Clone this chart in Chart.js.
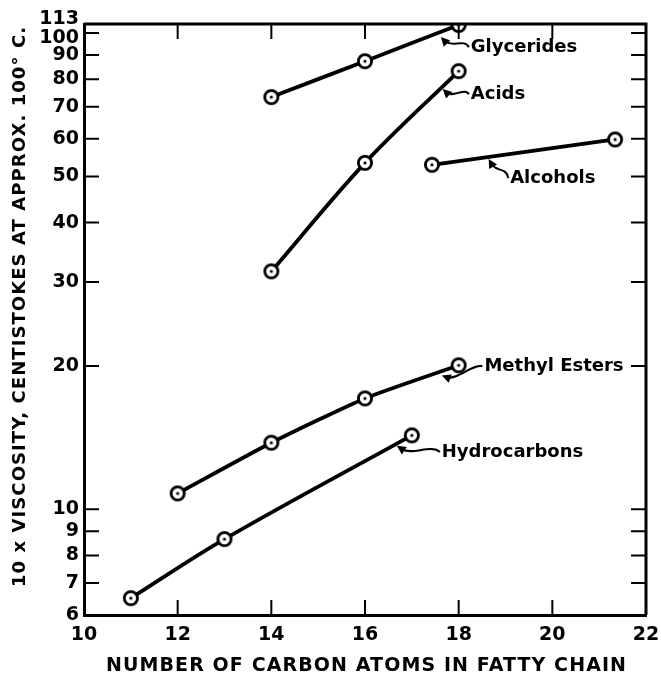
<!DOCTYPE html>
<html><head><meta charset="utf-8">
<script src="https://cdn.jsdelivr.net/npm/chart.js@4/dist/chart.umd.min.js"></script>
<style>html,body{margin:0;padding:0;background:#fff}#wrap{width:661px;height:682px;position:relative}</style>
</head><body><div id="wrap"><canvas id="c"></canvas></div>
<script>
// ---- data ----
const carbonTicks = [10, 12, 14, 16, 18, 20, 22];
const viscTickValues = [6, 7, 8, 9, 10, 20, 30, 40, 50, 60, 70, 80, 90, 100, 104.5];
const viscTickLabels = ['6', '7', '8', '9', '10', '20', '30', '40', '50', '60', '70', '80', '90', '100', '113'];

const glyceridesX = [14, 16, 18];
const glyceridesY = [73.4, 87.3, 104];
const acidsX = [14, 16, 18];
const acidsY = [31.6, 53.4, 83.2];
const alcoholsX = [17.43, 21.34];
const alcoholsY = [52.9, 59.8];
const methylX = [12, 14, 16, 18];
const methylY = [10.8, 13.8, 17.1, 20.07];
const hydroX = [11, 13, 17];
const hydroY = [6.51, 8.66, 14.3];

const seriesNames = ['Glycerides', 'Acids', 'Alcohols', 'Methyl Esters', 'Hydrocarbons'];
const xTitle = 'NUMBER OF CARBON ATOMS IN FATTY CHAIN';
const yTitle = '10 x VISCOSITY, CENTISTOKES AT APPROX. 100° C.';

// label placement (data units)
const labelPos = [
  {x: 18.26, y: 93.4, tipX: 17.62, tipY: 98.1},
  {x: 18.26, y: 74.4, tipX: 17.66, tipY: 76.3},
  {x: 19.1,  y: 49.6, tipX: 18.64, tipY: 54.4},
  {x: 18.55, y: 19.97, tipX: 17.64, tipY: 19.1},
  {x: 17.64, y: 13.2, tipX: 16.68, tipY: 13.6}
];

function pts(xs, ys) { return xs.map((x, i) => ({x: x, y: ys[i]})); }

function makePoint() {
  const c = document.createElement('canvas');
  c.width = 18; c.height = 18;
  const g = c.getContext('2d');
  g.beginPath(); g.arc(9, 9, 6.6, 0, Math.PI * 2);
  g.fillStyle = '#fff'; g.fill();
  g.lineWidth = 2.8; g.strokeStyle = '#000'; g.stroke();
  g.beginPath(); g.arc(9, 9, 1.6, 0, Math.PI * 2);
  g.fillStyle = '#000'; g.fill();
  return c;
}
const pointImg = makePoint();

function ds(name, xs, ys, tension) {
  return {
    label: name, data: pts(xs, ys), borderColor: '#000', borderWidth: 3.8,
    pointStyle: pointImg, pointRadius: 9, tension: tension, fill: false
  };
}

const FONT = "'DejaVu Sans', sans-serif";

function spacedText(ctx, text, cx, cy, target) {
  ctx.letterSpacing = '0px';
  const w = ctx.measureText(text).width;
  const sp = Math.max(0, (target - w) / (text.length - 1));
  ctx.letterSpacing = sp + 'px';
  ctx.textAlign = 'left';
  ctx.fillText(text, cx - target / 2, cy);
  ctx.letterSpacing = '0px';
}

const framePlugin = {
  id: 'frame',
  afterDraw(chart) {
    const {ctx, chartArea: a, scales} = chart;
    const xs = scales.x, ys = scales.y;
    ctx.save();
    ctx.strokeStyle = '#000';
    ctx.lineWidth = 3;
    ctx.beginPath();
    ctx.moveTo(a.left, a.top); ctx.lineTo(a.right, a.top); ctx.lineTo(a.right, a.bottom);
    ctx.stroke();
    ctx.lineWidth = 2;
    const L = 15;
    carbonTicks.slice(1, -1).forEach(v => {
      const p = xs.getPixelForValue(v);
      ctx.beginPath();
      ctx.moveTo(p, a.bottom); ctx.lineTo(p, a.bottom - L);
      ctx.moveTo(p, a.top); ctx.lineTo(p, a.top + L);
      ctx.stroke();
    });
    viscTickValues.slice(1, -1).forEach(v => {
      const p = ys.getPixelForValue(v);
      ctx.beginPath();
      ctx.moveTo(a.left, p); ctx.lineTo(a.left + L, p);
      ctx.moveTo(a.right, p); ctx.lineTo(a.right - L, p);
      ctx.stroke();
    });
    // axis titles
    ctx.fillStyle = '#000';
    ctx.font = 'bold 19px ' + FONT;
    ctx.textBaseline = 'middle';
    spacedText(ctx, xTitle, (a.left + a.right) / 2 + 1, 666, 520);
    ctx.font = 'bold 18px ' + FONT;
    ctx.save();
    ctx.translate(20, 307);
    ctx.rotate(-Math.PI / 2);
    spacedText(ctx, yTitle, 0, 0, 560);
    ctx.restore();
    // annotations
    ctx.font = 'bold 18px ' + FONT;
    ctx.textAlign = 'left';
    ctx.textBaseline = 'middle';
    seriesNames.forEach((name, i) => {
      const lp = labelPos[i];
      const tx = xs.getPixelForValue(lp.x), ty = ys.getPixelForValue(lp.y);
      const px = xs.getPixelForValue(lp.tipX), py = ys.getPixelForValue(lp.tipY);
      ctx.fillText(name, tx, ty);
      const sx = tx - 2, sy = ty;
      const dx = px - sx, dy = py - sy;
      const c1x = sx + dx * 0.3 + 4, c1y = sy + dy * 0.3 - 6;
      const c2x = sx + dx * 0.7 + 2, c2y = sy + dy * 0.7 + 8;
      ctx.lineWidth = 2;
      ctx.beginPath();
      ctx.moveTo(sx, sy);
      ctx.bezierCurveTo(c1x, c1y, c2x, c2y, px + (c2x - px) * 0.35, py + (c2y - py) * 0.35);
      ctx.stroke();
      let ux = px - c2x, uy = py - c2y;
      const len = Math.hypot(ux, uy) || 1; ux /= len; uy /= len;
      const hl = 9, hw = 4.5;
      ctx.beginPath();
      ctx.moveTo(px, py);
      ctx.lineTo(px - ux * hl - uy * hw, py - uy * hl + ux * hw);
      ctx.lineTo(px - ux * hl + uy * hw, py - uy * hl - ux * hw);
      ctx.closePath();
      ctx.fill();
    });
    ctx.restore();
  }
};

const lastIdx = viscTickLabels.length - 1;

new Chart(document.getElementById('c'), {
  type: 'line',
  data: {
    datasets: [
      ds(seriesNames[0], glyceridesX, glyceridesY, 0.15),
      ds(seriesNames[1], acidsX, acidsY, 0.35),
      ds(seriesNames[2], alcoholsX, alcoholsY, 0),
      ds(seriesNames[3], methylX, methylY, 0.2),
      ds(seriesNames[4], hydroX, hydroY, 0.35)
    ]
  },
  options: {
    responsive: true,
    maintainAspectRatio: false,
    animation: false,
    layout: {padding: {left: 0, top: 24, right: 15, bottom: 2}},
    plugins: {legend: {display: false}, tooltip: {enabled: false}},
    scales: {
      x: {
        type: 'linear', min: 10, max: 22,
        afterBuildTicks: s => { s.ticks = carbonTicks.map(v => ({value: v})); },
        afterFit: s => { s.height = 65; s.paddingRight = 0; s.paddingLeft = 0; },
        grid: {display: false, drawTicks: false},
        border: {display: true, color: '#000', width: 3},
        ticks: {color: '#000', font: {family: FONT, size: 19, weight: 'bold'}, padding: 9, autoSkip: false, maxRotation: 0},
        title: {display: false}
      },
      y: {
        type: 'logarithmic', min: 6, max: 104.5,
        afterBuildTicks: s => { s.ticks = viscTickValues.map(v => ({value: v})); },
        afterFit: s => { s.width = 84; s.paddingTop = 0; s.paddingBottom = 0; },
        grid: {display: false, drawTicks: false},
        border: {display: true, color: '#000', width: 3},
        ticks: {
          color: '#000', padding: 5, autoSkip: false,
          font: c => ({family: FONT, size: 19, weight: 'bold',
                       lineHeight: (c.index >= lastIdx - 1) ? 0.55 : 1.2}),
          callback: (v, i) => i === lastIdx ? [viscTickLabels[i], ''] :
                              (i === lastIdx - 1 ? ['', viscTickLabels[i]] : viscTickLabels[i])
        },
        title: {display: false}
      }
    }
  },
  plugins: [framePlugin]
});
</script>
</body></html>
